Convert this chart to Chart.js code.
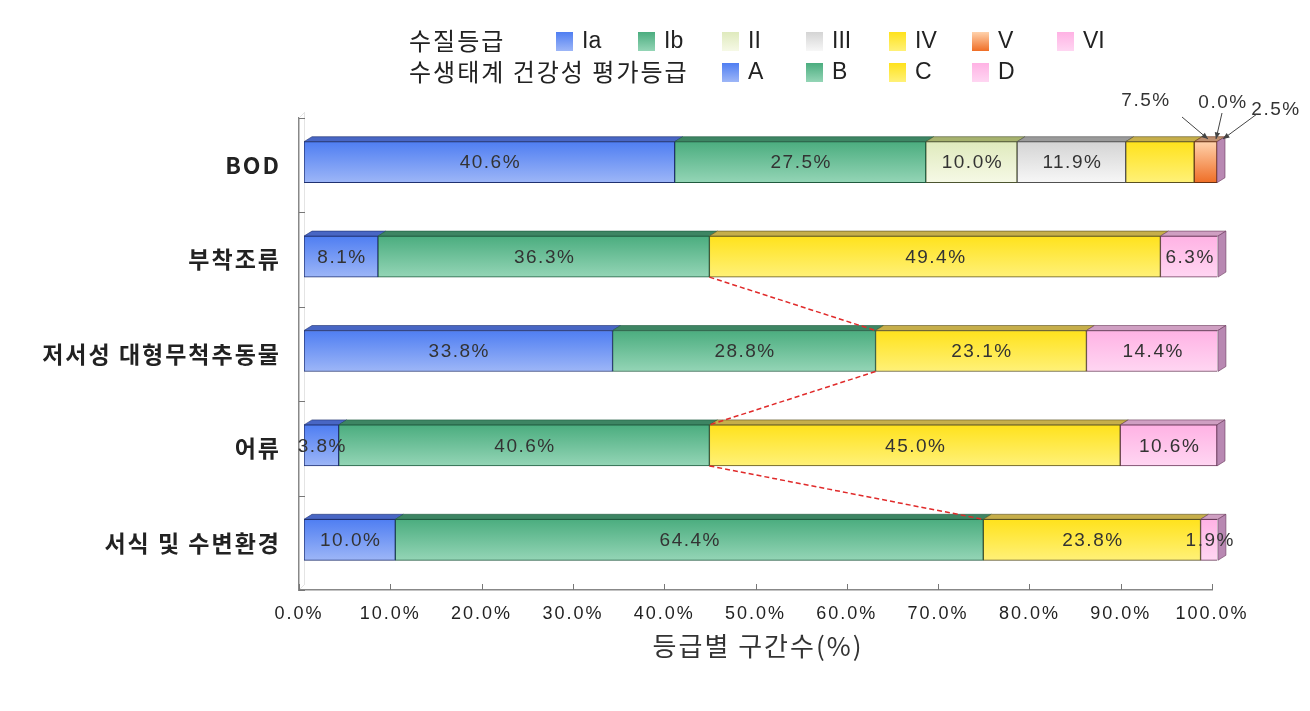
<!DOCTYPE html>
<html>
<head>
<meta charset="utf-8">
<script src="https://cdn.jsdelivr.net/npm/chart.js"></script>
<style>
html, body { margin: 0; padding: 0; background: #fff; }
#wrap { width: 1310px; height: 711px; }
</style>
</head>
<body>
<div id="wrap"><canvas id="grafico" width="1310" height="711"></canvas></div>
<script>
// dados
const categorias = ['BOD', '부착조류', '저서성 대형무척추동물', '어류', '서식 및 수변환경'];
const serieIaA = [40.6, 8.1, 33.8, 3.8, 10.0];
const serieIbB = [27.5, 36.3, 28.8, 40.6, 64.4];
const serieII = [10.0, null, null, null, null];
const serieIII = [11.9, null, null, null, null];
const serieIVC = [7.5, 49.4, 23.1, 45.0, 23.8];
const serieV = [2.5, null, null, null, null];
const serieVID = [0.0, 6.3, 14.4, 10.6, 1.9];
const ticksX = [0, 10, 20, 30, 40, 50, 60, 70, 80, 90, 100];
const legendaQualidade = ['Ia', 'Ib', 'II', 'III', 'IV', 'V', 'VI'];
const legendaEco = ['A', 'B', 'C', 'D'];
const rotulosBOD = ['7.5%', '0.0%', '2.5%'];

const fonteNum = "'Liberation Sans', 'Noto Sans CJK KR', sans-serif";
const fonteKr = "'Noto Sans CJK KR', sans-serif";

const DX = 5, DY = -3;      // deslocamento das barras (efeito 3D)
const PX = 8, PY = 5;       // profundidade das faces
const ESP = 41;             // espessura da barra

const cores = [
    { top: '#4f7ef2', bot: '#9db6f7', face: '#4866c4', borda: '#1f3070' }, // Ia / A
    { top: '#4bad7f', bot: '#94d5b6', face: '#3d8563', borda: '#1f5a3e' }, // Ib / B
    { top: '#dfeabd', bot: '#f6f9e6', face: '#a6b26e', borda: '#4c5430' }, // II
    { top: '#d4d4d4', bot: '#f7f7f7', face: '#9a9a9a', borda: '#505050' }, // III
    { top: '#ffe21c', bot: '#fff178', face: '#c6ae4a', borda: '#5a5020' }, // IV / C
    { top: '#ffd2ac', bot: '#ef6e26', face: '#bf9070', borda: '#6a3010' }, // V
    { top: '#ffb2e4', bot: '#ffd6f2', face: '#cf9fc2', borda: '#6a3a5a' }  // VI / D
];
const corLado = '#b888b2';

function gradiente(c) {
    return ctx => {
        const chart = ctx.chart;
        const y = chart.scales && chart.scales.y;
        if (!y || ctx.type !== 'data') return c.top;
        const cy = y.getPixelForValue(ctx.dataIndex);
        if (!isFinite(cy)) return c.top;
        const g = chart.ctx.createLinearGradient(0, cy - ESP / 2, 0, cy + ESP / 2);
        g.addColorStop(0, c.top);
        g.addColorStop(1, c.bot);
        return g;
    };
}

function criarDataset(label, dados, c) {
    return {
        label: label,
        data: dados,
        backgroundColor: gradiente(c),
        borderColor: c.borda,
        borderWidth: 1,
        borderSkipped: false,
        barThickness: ESP
    };
}

function caixaGradiente(ctx, x, y, w, h, c) {
    const g = ctx.createLinearGradient(0, y, 0, y + h);
    g.addColorStop(0, c.top);
    g.addColorStop(1, c.bot);
    ctx.fillStyle = g;
    ctx.fillRect(x, y, w, h);
}

const efeito3D = {
    id: 'efeito3D',
    beforeDraw(chart) {
        // espaçamento entre letras como no original
        chart.ctx.letterSpacing = '2px';
    },
    beforeDatasetsDraw(chart) {
        const ctx = chart.ctx;
        const area = chart.chartArea;
        // parede de fundo
        ctx.save();
        ctx.strokeStyle = '#e4e4e4';
        ctx.lineWidth = 1;
        ctx.beginPath();
        ctx.moveTo(area.left + 5.5, area.top - 6);
        ctx.lineTo(area.left + 5.5, area.bottom - 6);
        ctx.moveTo(area.left, area.bottom);
        ctx.lineTo(area.left + 6, area.bottom - 6);
        ctx.moveTo(area.left, area.top);
        ctx.lineTo(area.left + 6, area.top - 6);
        ctx.stroke();
        ctx.restore();

        ctx.save();
        ctx.translate(DX, DY);
        // faces superiores
        chart.data.datasets.forEach((ds, i) => {
            const meta = chart.getDatasetMeta(i);
            meta.data.forEach(el => {
                const p = el.getProps(['x', 'y', 'base', 'height'], true);
                if (!isFinite(p.x) || !isFinite(p.base) || p.x - p.base < 0.5) return;
                const x1 = Math.min(p.x, chart.scales.x.right + 1);
                const yt = p.y - p.height / 2;
                ctx.beginPath();
                ctx.moveTo(p.base, yt);
                ctx.lineTo(p.base + PX, yt - PY);
                ctx.lineTo(x1 + PX, yt - PY);
                ctx.lineTo(x1, yt);
                ctx.closePath();
                ctx.fillStyle = cores[i].face;
                ctx.fill();
                ctx.strokeStyle = cores[i].borda;
                ctx.lineWidth = 0.6;
                ctx.stroke();
            });
        });
    },
    afterDatasetsDraw(chart) {
        const ctx = chart.ctx;
        const xs = chart.scales.x;
        // face lateral no fim de cada barra
        categorias.forEach((cat, j) => {
            let fim = null, yc = null, h = ESP;
            chart.data.datasets.forEach((ds, i) => {
                const el = chart.getDatasetMeta(i).data[j];
                if (!el) return;
                const p = el.getProps(['x', 'y', 'height'], true);
                if (!isFinite(p.x)) return;
                if (fim === null || p.x > fim) { fim = p.x; yc = p.y; h = p.height; }
            });
            if (fim === null) return;
            fim = Math.min(fim, xs.right + 1);
            const yt = yc - h / 2, yb = yc + h / 2;
            ctx.beginPath();
            ctx.moveTo(fim, yt);
            ctx.lineTo(fim + PX, yt - PY);
            ctx.lineTo(fim + PX, yb - PY);
            ctx.lineTo(fim, yb);
            ctx.closePath();
            ctx.fillStyle = corLado;
            ctx.fill();
            ctx.strokeStyle = '#6a3a5a';
            ctx.lineWidth = 0.6;
            ctx.stroke();
        });

        // rótulos de valor
        ctx.font = '19px ' + fonteNum;
        ctx.letterSpacing = '1.5px';
        ctx.textAlign = 'center';
        ctx.textBaseline = 'middle';
        ctx.fillStyle = '#333';
        chart.data.datasets.forEach((ds, i) => {
            const meta = chart.getDatasetMeta(i);
            meta.data.forEach((el, j) => {
                const v = ds.data[j];
                if (v === null || v === undefined) return;
                if (j === 0 && i >= 4) return; // BOD pequenos: rótulos externos
                const p = el.getProps(['x', 'y', 'base'], true);
                ctx.fillText(v.toFixed(1) + '%', (p.x + p.base) / 2 + 1, p.y + 1);
            });
        });
        ctx.restore();

        // linhas de série tracejadas (A+B)
        const ys = chart.scales.y;
        ctx.save();
        ctx.strokeStyle = '#e02a2a';
        ctx.lineWidth = 1.5;
        ctx.setLineDash([5, 3]);
        for (let j = 1; j < categorias.length - 1; j++) {
            const xa = xs.getPixelForValue(serieIaA[j] + serieIbB[j]) + DX;
            const xb = xs.getPixelForValue(serieIaA[j + 1] + serieIbB[j + 1]) + DX;
            const ya = ys.getPixelForValue(j) + DY + ESP / 2;
            const yb = ys.getPixelForValue(j + 1) + DY - ESP / 2;
            ctx.beginPath();
            ctx.moveTo(xa, ya);
            ctx.lineTo(xb, yb);
            ctx.stroke();
        }
        ctx.restore();

        // rótulos externos da BOD com setas
        ctx.save();
        ctx.font = '19px ' + fonteNum;
        ctx.letterSpacing = '1.5px';
        ctx.fillStyle = '#333';
        ctx.textAlign = 'center';
        ctx.textBaseline = 'middle';
        const posRot = [[1146, 101], [1223, 103], [1276, 110]];
        const setas = [[1182, 117, 1208, 139], [1222, 113, 1216, 139], [1257, 114, 1223, 139]];
        rotulosBOD.forEach((t, k) => ctx.fillText(t, posRot[k][0], posRot[k][1]));
        ctx.strokeStyle = '#444';
        ctx.fillStyle = '#444';
        ctx.lineWidth = 1;
        setas.forEach(s => {
            ctx.beginPath();
            ctx.moveTo(s[0], s[1]);
            ctx.lineTo(s[2], s[3]);
            ctx.stroke();
            const ang = Math.atan2(s[3] - s[1], s[2] - s[0]);
            ctx.beginPath();
            ctx.moveTo(s[2], s[3]);
            ctx.lineTo(s[2] - 7 * Math.cos(ang - 0.4), s[3] - 7 * Math.sin(ang - 0.4));
            ctx.lineTo(s[2] - 7 * Math.cos(ang + 0.4), s[3] - 7 * Math.sin(ang + 0.4));
            ctx.closePath();
            ctx.fill();
        });
        ctx.restore();
    },
    afterDraw(chart) {
        const ctx = chart.ctx;
        const xs = chart.scales.x;
        const area = chart.chartArea;
        ctx.save();
        // marcas dos eixos (para dentro)
        ctx.strokeStyle = '#777';
        ctx.lineWidth = 1;
        ctx.beginPath();
        ticksX.forEach(t => {
            const x = Math.round(xs.getPixelForValue(t)) + 0.5;
            ctx.moveTo(x, area.bottom);
            ctx.lineTo(x, area.bottom - 6);
        });
        for (let j = 0; j <= categorias.length; j++) {
            const y = Math.round(area.top + j * (area.bottom - area.top) / categorias.length) + 0.5;
            ctx.moveTo(area.left, y);
            ctx.lineTo(area.left + 6, y);
        }
        ctx.stroke();

        // título do eixo X
        ctx.font = '26px ' + fonteKr;
        ctx.letterSpacing = '2px';
        ctx.fillStyle = '#333';
        ctx.textAlign = 'center';
        ctx.textBaseline = 'middle';
        ctx.fillText('등급별 구간수(%)', 758, 646);

        // legenda
        ctx.textAlign = 'left';
        ctx.fillStyle = '#222';
        ctx.font = '24px ' + fonteKr;
        ctx.fillText('수질등급', 409, 41);
        ctx.fillText('수생태계 건강성 평가등급', 409, 72);
        ctx.letterSpacing = '0px';
        const xq = [556, 638, 722, 806, 889, 972, 1057];
        legendaQualidade.forEach((t, k) => {
            caixaGradiente(ctx, xq[k], 32, 17, 19, cores[k]);
            ctx.fillStyle = '#222';
            ctx.font = '23px ' + fonteNum;
            ctx.fillText(t, xq[k] + 26, 42);
        });
        const idxEco = [0, 1, 4, 6];
        legendaEco.forEach((t, k) => {
            const x = xq[k + 2];
            caixaGradiente(ctx, x, 63, 17, 19, cores[idxEco[k]]);
            ctx.fillStyle = '#222';
            ctx.font = '23px ' + fonteNum;
            ctx.fillText(t, x + 26, 73);
        });
        ctx.restore();
    }
};

const ctxGrafico = document.getElementById('grafico').getContext('2d');
new Chart(ctxGrafico, {
    type: 'bar',
    data: {
        labels: categorias,
        datasets: [
            criarDataset('Ia / A', serieIaA, cores[0]),
            criarDataset('Ib / B', serieIbB, cores[1]),
            criarDataset('II', serieII, cores[2]),
            criarDataset('III', serieIII, cores[3]),
            criarDataset('IV / C', serieIVC, cores[4]),
            criarDataset('V', serieV, cores[5]),
            criarDataset('VI / D', serieVID, cores[6])
        ]
    },
    options: {
        indexAxis: 'y',
        responsive: false,
        animation: false,
        layout: { padding: { top: 118, right: 98, left: 0, bottom: 0 } },
        scales: {
            x: {
                type: 'linear',
                stacked: true,
                min: 0,
                max: 100,
                grid: { display: false },
                border: { display: true, color: '#888', width: 1.5 },
                afterBuildTicks: s => { s.ticks = ticksX.map(v => ({ value: v })); },
                ticks: {
                    autoSkip: false,
                    maxRotation: 0,
                    padding: 5,
                    color: '#222',
                    font: { size: 18, family: fonteNum },
                    callback: v => v.toFixed(1) + '%'
                },
                afterFit: s => { s.height = 121; }
            },
            y: {
                stacked: true,
                grid: { display: false },
                border: { display: true, color: '#888', width: 1.5 },
                ticks: {
                    padding: 10,
                    color: '#222',
                    font: { size: 23, weight: 'bold', family: fonteKr }
                },
                afterFit: s => { s.width = 299; }
            }
        },
        plugins: {
            legend: { display: false },
            tooltip: { enabled: false }
        }
    },
    plugins: [efeito3D]
});
</script>
</body>
</html>
